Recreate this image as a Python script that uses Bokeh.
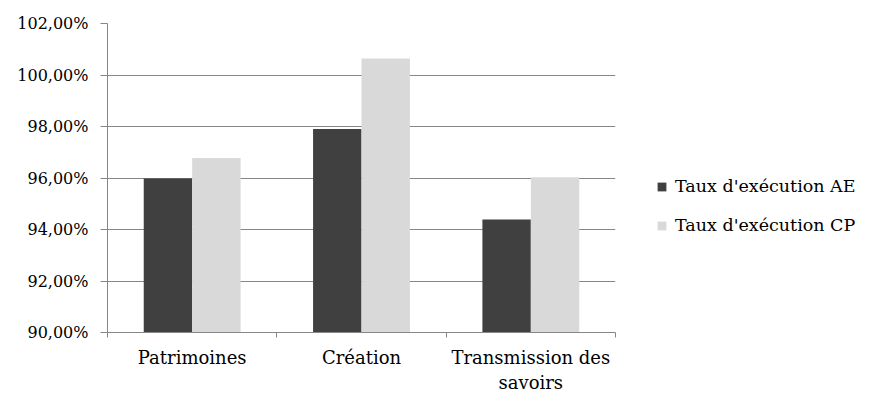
from bokeh.plotting import figure
from bokeh.models import (ColumnDataSource, Range1d, FixedTicker, Legend, LegendItem)
from bokeh.transform import dodge
from bokeh.embed import file_html
from bokeh.resources import INLINE

# ---- data ----
categories = ["Patrimoines", "Création", "Transmission des\nsavoirs"]
taux_ae = [95.98, 97.90, 94.39]
taux_cp = [96.78, 100.64, 96.03]
y_ticks = [90, 92, 94, 96, 98, 100, 102]
y_tick_labels = ["90,00%", "92,00%", "94,00%", "96,00%", "98,00%", "100,00%", "102,00%"]
series_names = ["Taux d'exécution AE", "Taux d'exécution CP"]
colors = ["#404040", "#d9d9d9"]

FONT = "DejaVu Serif"
GRAY = "#868686"

x_centers = [i + 0.5 for i in range(len(categories))]
src = ColumnDataSource(dict(x=x_centers, ae=taux_ae, cp=taux_cp))

p = figure(width=870, height=395, output_backend="svg", toolbar_location=None,
           x_range=Range1d(0, len(categories)), y_range=Range1d(90, 102),
           frame_width=508, frame_height=309,
           min_border_left=107, min_border_top=23,
           min_border_bottom=63)
p.outline_line_color = None
p.background_fill_color = "white"
p.border_fill_color = "white"

bw = 0.286
r_ae = p.vbar(x=dodge("x", -bw / 2), top="ae", bottom=90, width=bw, source=src,
              fill_color=colors[0], line_color=None)
r_cp = p.vbar(x=dodge("x", bw / 2), top="cp", bottom=90, width=bw, source=src,
              fill_color=colors[1], line_color=None)

# y axis
p.yaxis.ticker = FixedTicker(ticks=y_ticks)
p.yaxis.major_label_overrides = {t: l for t, l in zip(y_ticks, y_tick_labels)}
p.yaxis.axis_line_color = GRAY
p.yaxis.major_tick_line_color = GRAY
p.yaxis.major_tick_out = 7
p.yaxis.major_tick_in = 0
p.yaxis.minor_tick_line_color = None
p.yaxis.major_label_standoff = 12
p.yaxis.major_label_text_font = FONT
p.yaxis.major_label_text_font_size = "16px"
p.yaxis.major_label_text_color = "black"

# x axis
p.xaxis.ticker = FixedTicker(ticks=x_centers, minor_ticks=list(range(len(categories) + 1)))
p.xaxis.major_label_overrides = {c: l for c, l in zip(x_centers, categories)}
p.xaxis.axis_line_color = GRAY
p.xaxis.major_tick_line_color = None
p.xaxis.major_tick_out = 0
p.xaxis.major_tick_in = 0
p.xaxis.minor_tick_line_color = GRAY
p.xaxis.minor_tick_out = 5
p.xaxis.minor_tick_in = 0
p.xaxis.major_label_standoff = 9
p.xaxis.major_label_text_font = FONT
p.xaxis.major_label_text_font_size = "18px"
p.xaxis.major_label_text_color = "black"
p.xaxis.major_label_text_align = "center"

p.xgrid.grid_line_color = None
p.ygrid.grid_line_color = GRAY
p.ygrid.grid_line_width = 1
p.ygrid.ticker = FixedTicker(ticks=y_ticks[1:])

legend = Legend(items=[LegendItem(label=series_names[0], renderers=[r_ae]),
                       LegendItem(label=series_names[1], renderers=[r_cp])],
                location=(41, 97), orientation="vertical")
legend.border_line_color = None
legend.background_fill_alpha = 0
legend.padding = 0
legend.margin = 0
legend.spacing = 19
legend.glyph_width = 11
legend.glyph_height = 11
legend.label_height = 20
legend.label_standoff = 8
legend.label_text_font = FONT
legend.label_text_font_size = "17.5px"
legend.label_text_color = "black"
p.add_layout(legend, "right")

open("out.html", "w").write(file_html(p, INLINE))
